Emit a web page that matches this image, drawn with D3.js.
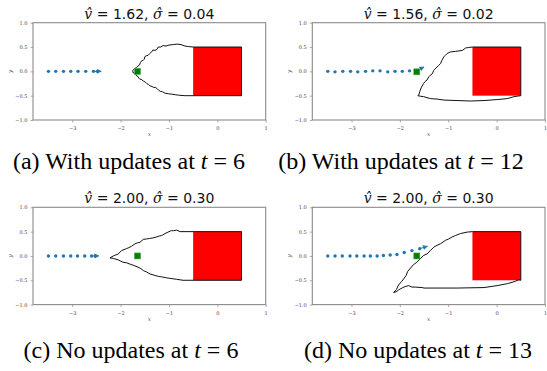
<!DOCTYPE html>
<html>
<head>
<meta charset="utf-8">
<script src="https://cdn.jsdelivr.net/npm/d3@7"></script>
<style>
  body { margin: 0; background: #fff; }
  svg { display: block; }
</style>
</head>
<body>
<div id="app"></div>
<script>
// panel data (data units)
const titlesV = ["1.62", "1.56", "2.00", "2.00"]
const titlesS = ["0.04", "0.02", "0.30", "0.30"]
const captions = [
  ["(a) With updates at ", "t", "6"],
  ["(b) With updates at ", "t", "12"],
  ["(c) No updates at ", "t", "6"],
  ["(d) No updates at ", "t", "13"]
]
const xTicks = [-3, -2, -1, 0, 1]
const yTicks = [-1.0, -0.5, 0.0, 0.5, 1.0]
const obstacle = [[-0.5, -0.5], [0.5, 0.5]]   // red box corners

const dotsA = [[-3.49,0],[-3.34,0],[-3.18,0],[-3.03,0],[-2.88,0],[-2.72,0],[-2.56,0],[-2.48,0]]
const dotsB = [[-3.49,0],[-3.34,-0.01],[-3.18,0],[-3.02,0],[-2.87,-0.01],[-2.71,0],[-2.56,0.01],[-2.41,0.01],[-2.25,-0.01],[-2.10,0],[-1.95,0],[-1.80,0.01]]
const dotsC = [[-3.49,0],[-3.34,0],[-3.18,0],[-3.03,0],[-2.89,0],[-2.74,0],[-2.60,0],[-2.52,0]]
const dotsD = [[-3.49,0],[-3.34,0],[-3.19,0],[-3.03,0],[-2.89,0],[-2.74,0],[-2.61,0],[-2.47,0],[-2.34,0.01],[-2.20,0.02],[-2.06,0.03],[-1.91,0.07],[-1.75,0.11],[-1.59,0.15]]

const arrowA = [[-2.56,0],[-2.40,0]]
const arrowB = [[-1.64,0.02],[-1.50,0.09]]
const arrowC = [[-2.60,0],[-2.45,0]]
const arrowD = [[-1.59,0.15],[-1.43,0.20]]

const goals = [[-1.65,0],[-1.65,-0.01],[-1.65,0],[-1.65,0]]

const contourA = [[0.5,0.5],[-0.5,0.5],[-0.6,0.51],[-0.67,0.52],[-0.75,0.55],[-0.83,0.56],[-0.91,0.55],[-1.0,0.54],[-1.06,0.52],[-1.12,0.53],[-1.17,0.5],[-1.22,0.5],[-1.25,0.45],[-1.29,0.43],[-1.33,0.44],[-1.36,0.40],[-1.40,0.36],[-1.43,0.33],[-1.47,0.32],[-1.50,0.30],[-1.51,0.25],[-1.53,0.23],[-1.57,0.21],[-1.59,0.18],[-1.61,0.13],[-1.64,0.11],[-1.67,0.08],[-1.70,0.06],[-1.73,0.04],[-1.75,0.01],[-1.74,-0.03],[-1.70,-0.04],[-1.68,-0.08],[-1.64,-0.11],[-1.62,-0.14],[-1.60,-0.16],[-1.56,-0.17],[-1.53,-0.20],[-1.49,-0.22],[-1.46,-0.25],[-1.42,-0.27],[-1.39,-0.30],[-1.35,-0.31],[-1.32,-0.33],[-1.28,-0.33],[-1.25,-0.35],[-1.21,-0.39],[-1.18,-0.41],[-1.13,-0.42],[-1.08,-0.45],[-1.01,-0.46],[-0.94,-0.47],[-0.87,-0.48],[-0.80,-0.49],[-0.67,-0.50],[-0.5,-0.5],[0.5,-0.5]]
const contourB = [[0.5,0.5],[-0.5,0.5],[-0.58,0.49],[-0.64,0.48],[-0.71,0.43],[-0.78,0.42],[-0.85,0.41],[-0.95,0.40],[-1.02,0.37],[-1.06,0.33],[-1.09,0.30],[-1.13,0.23],[-1.16,0.16],[-1.20,0.12],[-1.23,0.09],[-1.27,0.05],[-1.30,0.02],[-1.33,-0.05],[-1.37,-0.08],[-1.40,-0.11],[-1.44,-0.18],[-1.48,-0.21],[-1.51,-0.25],[-1.56,-0.34],[-1.59,-0.42],[-1.61,-0.49],[-1.63,-0.50],[-1.58,-0.51],[-1.51,-0.52],[-1.37,-0.56],[-1.23,-0.57],[-1.09,-0.59],[-0.82,-0.60],[-0.54,-0.61],[-0.26,-0.60],[0.01,-0.58],[0.22,-0.56],[0.36,-0.52],[0.43,-0.51],[0.5,-0.5]]
const contourC = [[0.5,0.5],[-0.5,0.5],[-0.77,0.5],[-0.84,0.53],[-0.90,0.52],[-0.95,0.52],[-1.02,0.49],[-1.08,0.46],[-1.15,0.42],[-1.20,0.41],[-1.26,0.39],[-1.33,0.37],[-1.40,0.36],[-1.46,0.35],[-1.53,0.34],[-1.60,0.28],[-1.65,0.27],[-1.70,0.25],[-1.77,0.20],[-1.83,0.17],[-1.88,0.15],[-1.98,0.11],[-2.05,0.04],[-2.10,0.02],[-2.15,0.0],[-2.22,-0.04],[-2.15,-0.05],[-2.05,-0.08],[-1.95,-0.13],[-1.88,-0.14],[-1.80,-0.17],[-1.74,-0.19],[-1.64,-0.23],[-1.58,-0.26],[-1.53,-0.30],[-1.46,-0.33],[-1.39,-0.37],[-1.29,-0.40],[-1.22,-0.42],[-1.15,-0.43],[-1.05,-0.45],[-0.98,-0.46],[-0.84,-0.48],[-0.71,-0.50],[-0.5,-0.5],[0.5,-0.5]]
const contourD = [[0.5,0.5],[-0.5,0.5],[-0.61,0.49],[-0.75,0.46],[-0.85,0.42],[-0.92,0.39],[-0.99,0.35],[-1.06,0.32],[-1.16,0.25],[-1.23,0.22],[-1.30,0.18],[-1.37,0.11],[-1.44,0.04],[-1.51,0.01],[-1.58,-0.06],[-1.65,-0.13],[-1.72,-0.18],[-1.78,-0.25],[-1.84,-0.32],[-1.87,-0.40],[-1.92,-0.47],[-1.96,-0.52],[-2.03,-0.60],[-2.07,-0.69],[-2.13,-0.75],[-2.08,-0.74],[-2.03,-0.70],[-1.94,-0.65],[-1.89,-0.63],[-1.82,-0.61],[-1.75,-0.64],[-1.68,-0.64],[-1.54,-0.65],[-1.50,-0.66],[-1.23,-0.66],[-0.82,-0.66],[-0.26,-0.65],[0.01,-0.61],[0.22,-0.57],[0.36,-0.53],[0.46,-0.49],[0.5,-0.5]]

const panels = [
  {left: 33, top: 22.7, dots: dotsA, arrow: arrowA, contour: contourA, cap: 129, capY: 169},
  {left: 312.3, top: 22.7, dots: dotsB, arrow: arrowB, contour: contourB, cap: 401, capY: 169},
  {left: 33, top: 207.3, dots: dotsC, arrow: arrowC, contour: contourC, cap: 131, capY: 358},
  {left: 312.3, top: 207.3, dots: dotsD, arrow: arrowD, contour: contourD, cap: 418, capY: 358}
]

let width = 547, height = 371
let svg = d3.select("#app").append("svg")
    .attr("width", width)
    .attr("height", height)

svg.append("defs").append("marker")
    .attr("id", "head")
    .attr("viewBox", "0 0 10 10")
    .attr("refX", 9).attr("refY", 5)
    .attr("markerWidth", 5).attr("markerHeight", 5)
    .attr("markerUnits", "userSpaceOnUse")
    .attr("orient", "auto")
  .append("path")
    .attr("d", "M0,0L10,5L0,10z")
    .attr("fill", "#1f77b4")

let pw = 232.7, ph = 97.3
let line = d3.line()

panels.forEach((p, i) => {
    let g = svg.append("g").attr("transform", `translate(${p.left},${p.top})`)
    let x = d3.scaleLinear().domain([-3.81, 1]).range([0, pw])
    let y = d3.scaleLinear().domain([-1, 1]).range([ph, 0])

    // obstacle and reachable-set contour
    g.append("rect")
        .attr("x", x(obstacle[0][0]))
        .attr("y", y(obstacle[1][1]))
        .attr("width", x(obstacle[1][0]) - x(obstacle[0][0]))
        .attr("height", y(obstacle[0][1]) - y(obstacle[1][1]))
        .attr("fill", "#ff0000")
    g.append("path")
        .attr("d", line(p.contour.map(d => [x(d[0]), y(d[1])])) + "Z")
        .attr("fill", "none")
        .attr("stroke", "#111")
        .attr("stroke-width", 1)
        .attr("stroke-linejoin", "round")

    // trajectory
    g.append("line")
        .attr("x1", x(p.arrow[0][0])).attr("y1", y(p.arrow[0][1]))
        .attr("x2", x(p.arrow[1][0])).attr("y2", y(p.arrow[1][1]))
        .attr("stroke", "#1f77b4")
        .attr("stroke-width", 1)
        .attr("marker-end", "url(#head)")
    g.selectAll("circle")
        .data(p.dots)
        .enter().append("circle")
        .attr("cx", d => x(d[0]))
        .attr("cy", d => y(d[1]))
        .attr("r", 1.7)
        .attr("fill", "#1f77b4")

    // goal marker
    g.append("rect")
        .attr("x", x(goals[i][0]) - 3)
        .attr("y", y(goals[i][1]) - 3)
        .attr("width", 6).attr("height", 6)
        .attr("fill", "#008000")
        .attr("stroke", "#4ca64c")
        .attr("stroke-width", 0.6)

    // axes
    let xa = g.append("g").attr("transform", `translate(0,${ph})`)
        .call(d3.axisBottom(x).tickValues(xTicks).tickSize(2.5).tickSizeOuter(0)
            .tickFormat(d => d3.format("d")(d).replace("-", "\u2212")))
    let ya = g.append("g")
        .call(d3.axisLeft(y).tickValues(yTicks).tickSize(2.5).tickSizeOuter(0)
            .tickFormat(d => d3.format(".1f")(d).replace("-", "\u2212")))
    ;[xa, ya].forEach(a => {
        a.select(".domain").remove()
        a.selectAll("line").attr("stroke", "#777").attr("stroke-width", 0.6)
        a.selectAll("text")
            .attr("font-family", "DejaVu Serif, serif")
            .attr("font-size", 5)
            .attr("fill", "#444")
    })
    xa.selectAll("text").attr("dy", "0.9em")
    g.append("rect")
        .attr("width", pw).attr("height", ph)
        .attr("fill", "none")
        .attr("stroke", "#8a8a8a")
        .attr("stroke-width", 1.1)

    g.append("text")
        .attr("x", pw / 2).attr("y", ph + 16)
        .attr("text-anchor", "middle")
        .attr("font-family", "DejaVu Serif, serif")
        .attr("font-style", "italic")
        .attr("font-size", 5.5)
        .attr("fill", "#444")
        .text("x")
    g.append("text")
        .attr("transform", `translate(-21,${ph / 2}) rotate(-90)`)
        .attr("text-anchor", "middle")
        .attr("font-family", "DejaVu Serif, serif")
        .attr("font-style", "italic")
        .attr("font-size", 5.5)
        .attr("fill", "#444")
        .text("y")

    // title
    let t = g.append("text")
        .attr("x", pw / 2).attr("y", -4)
        .attr("text-anchor", "middle")
        .attr("font-family", "DejaVu Sans, sans-serif")
        .attr("font-size", 14)
        .attr("fill", "#111")
    t.append("tspan").attr("font-family", "DejaVu Serif, serif").attr("font-style", "italic").text("v\u0302")
    t.append("tspan").text(" = " + titlesV[i] + ", ")
    t.append("tspan").attr("font-family", "DejaVu Serif, serif").attr("font-style", "italic").text("\u03c3\u0302")
    t.append("tspan").text(" = " + titlesS[i])

    // sub-caption
    let c = svg.append("text")
        .attr("x", p.cap).attr("y", p.capY)
        .attr("text-anchor", "middle")
        .attr("font-family", "Liberation Serif, serif")
        .attr("font-size", 24)
        .attr("fill", "#000")
    c.append("tspan").text(captions[i][0])
    c.append("tspan").attr("font-style", "italic").text(captions[i][1])
    c.append("tspan").attr("dx", 6).text("=")
    c.append("tspan").attr("dx", 6).text(captions[i][2])
})
</script>
</body>
</html>
